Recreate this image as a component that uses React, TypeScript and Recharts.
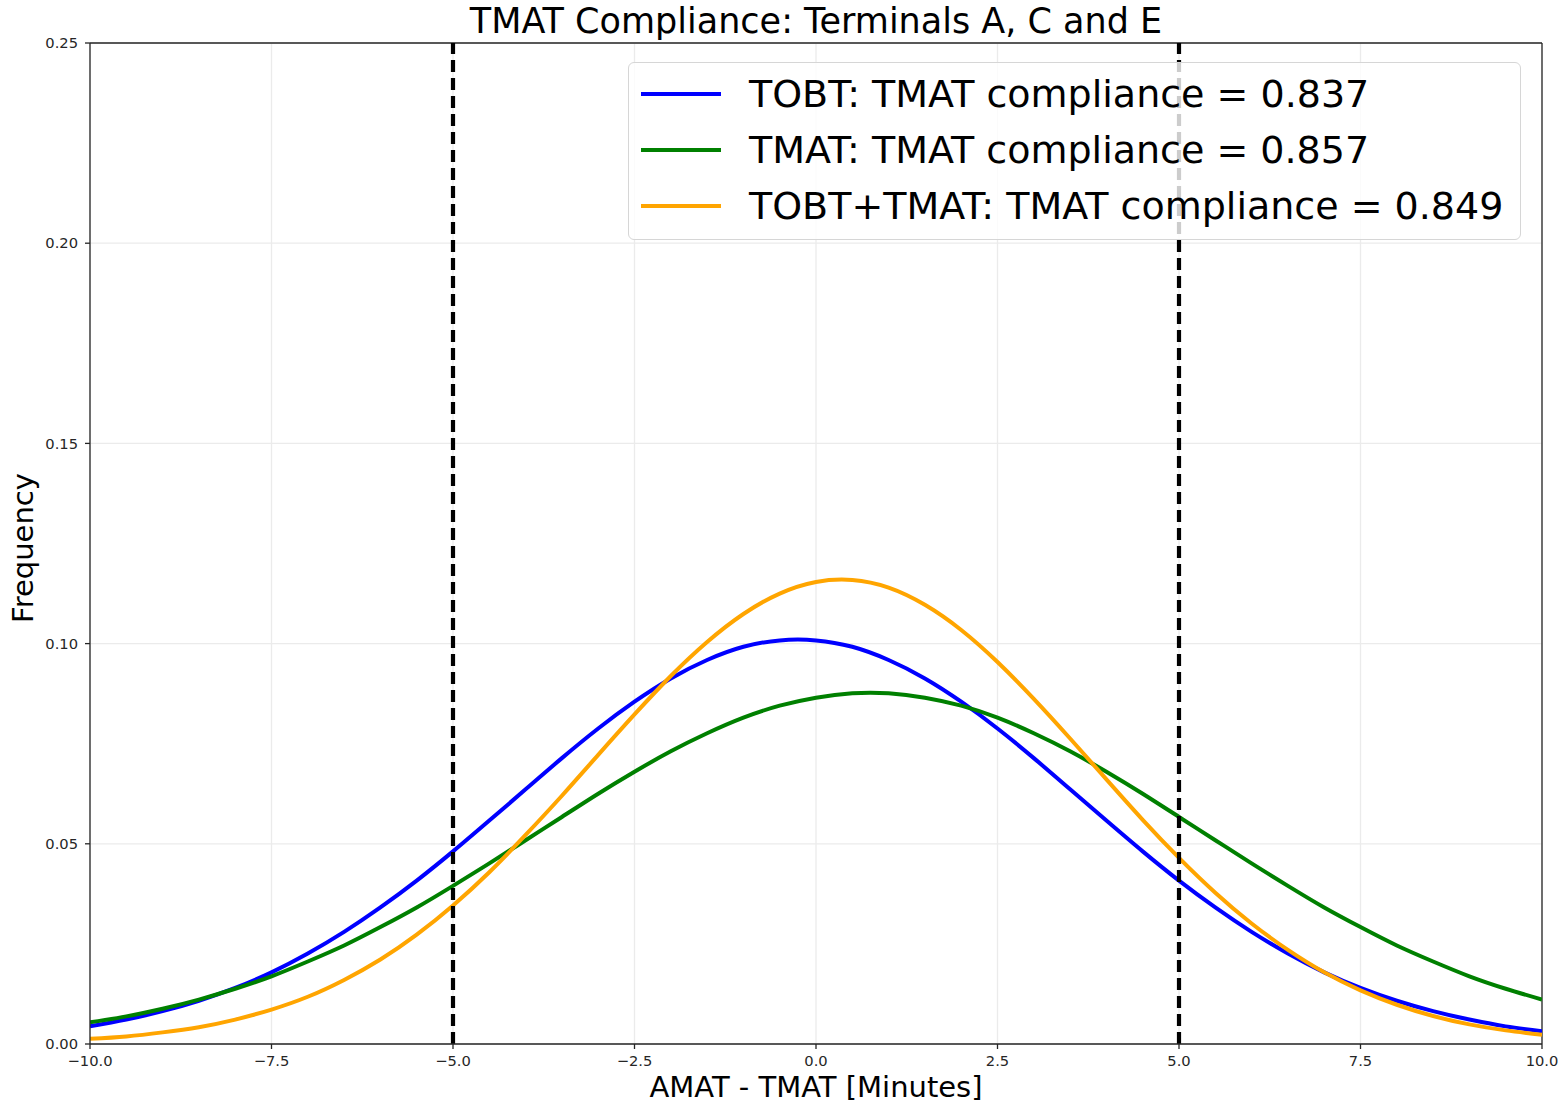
import React from "react";
import { LineChart, Line, XAxis, YAxis, CartesianGrid, ReferenceLine, Legend } from "recharts";

const xs = [
    -10, -9.5, -9, -8.5, -8, -7.5, -7, -6.5, -6, -5.5, -5, -4.5, -4, -3.5, -3, -2.5, -2, -1.5, -1, -0.5,
    0, 0.5, 1, 1.5, 2, 2.5, 3, 3.5, 4, 4.5, 5, 5.5, 6, 6.5, 7, 7.5, 8, 8.5, 9, 9.5, 10,
];

const tobt = [
    0.0044, 0.0061, 0.0082, 0.0108, 0.014, 0.0179, 0.0226, 0.028, 0.0341, 0.0408, 0.0481, 0.0558, 0.0636, 0.0714,
    0.0788, 0.0855, 0.0913, 0.0959, 0.0992, 0.1008, 0.1008, 0.0992, 0.0959, 0.0913, 0.0855, 0.0788, 0.0714, 0.0636,
    0.0558, 0.0481, 0.0408, 0.0341, 0.028, 0.0226, 0.0179, 0.014, 0.0108, 0.0082, 0.0061, 0.0044, 0.0032,
];

const tmat = [
    0.0054, 0.0069, 0.0088, 0.0111, 0.0138, 0.0169, 0.0206, 0.0246, 0.0292, 0.0341, 0.0395, 0.0451, 0.0509, 0.0567,
    0.0625, 0.068, 0.0731, 0.0776, 0.0815, 0.0845, 0.0865, 0.0876, 0.0876, 0.0865, 0.0845, 0.0815, 0.0776, 0.0731,
    0.068, 0.0625, 0.0567, 0.0509, 0.0451, 0.0395, 0.0341, 0.0292, 0.0246, 0.0206, 0.0169, 0.0138, 0.0111,
];

const both = [
    0.0013, 0.0019, 0.0029, 0.0042, 0.0061, 0.0086, 0.0118, 0.016, 0.0211, 0.0273, 0.0346, 0.0429, 0.0522, 0.062,
    0.0722, 0.0823, 0.0919, 0.1004, 0.1074, 0.1125, 0.1154, 0.1159, 0.114, 0.1097, 0.1034, 0.0954, 0.0862, 0.0763,
    0.0661, 0.056, 0.0465, 0.0378, 0.0301, 0.0235, 0.0179, 0.0134, 0.0098, 0.007, 0.0049, 0.0034, 0.0023,
];

const xTicks = [-10, -7.5, -5, -2.5, 0, 2.5, 5, 7.5, 10];
const yTicks = [0, 0.05, 0.1, 0.15, 0.2, 0.25];
const limits = [-5, 5];

const SERIES = [
    { key: "tobt", name: "TOBT: TMAT compliance = 0.837", color: "#0000ff" },
    { key: "tmat", name: "TMAT: TMAT compliance = 0.857", color: "#008000" },
    { key: "both", name: "TOBT+TMAT: TMAT compliance = 0.849", color: "#ffa500" },
];

const data = xs.map((x, i) => ({ x, tobt: tobt[i], tmat: tmat[i], both: both[i] }));

const FONT = "'DejaVu Sans', sans-serif";
const AXIS_COLOR = "#262626";
const TICK = { fill: "#262626", fontSize: 14.7, fontFamily: FONT };

const minus = (s: string) => s.replace("-", "\u2212");

function LegendBox() {
    return (
        <div
            style={{
                width: 893,
                height: 178,
                boxSizing: "border-box",
                background: "rgba(255,255,255,0.8)",
                border: "1.5px solid #d6d6d6",
                borderRadius: 6,
                fontFamily: FONT,
                fontSize: 38,
                color: "#000",
                paddingTop: 3,
            }}
        >
            {SERIES.map((s) => (
                <div key={s.key} style={{ display: "flex", alignItems: "center", height: 56 }}>
                    <div style={{ width: 80, height: 4, background: s.color, marginLeft: 12, marginRight: 28 }} />
                    <span style={{ whiteSpace: "nowrap", lineHeight: 1 }}>{s.name}</span>
                </div>
            ))}
        </div>
    );
}

export default function App() {
    return (
        <div style={{ width: 1567, height: 1104, background: "#fff" }}>
            <style>{`body{margin:0}`}</style>
            <LineChart width={1567} height={1104} data={data} margin={{ top: 43, right: 25, bottom: 0, left: 0 }}>
                <CartesianGrid stroke="#ebebeb" strokeWidth={1.3} />
                <XAxis
                    dataKey="x"
                    type="number"
                    domain={[-10, 10]}
                    ticks={xTicks}
                    tickFormatter={(v: number) => minus(v.toFixed(1))}
                    tick={TICK}
                    tickSize={5}
                    tickMargin={7}
                    height={60}
                    stroke={AXIS_COLOR}
                    strokeWidth={1.3}
                    allowDataOverflow
                />
                <YAxis
                    type="number"
                    domain={[0, 0.25]}
                    ticks={yTicks}
                    tickFormatter={(v: number) => v.toFixed(2)}
                    tick={TICK}
                    tickSize={5}
                    tickMargin={7}
                    width={90}
                    stroke={AXIS_COLOR}
                    strokeWidth={1.3}
                    allowDataOverflow
                />
                <ReferenceLine y={0.25} stroke={AXIS_COLOR} strokeWidth={1.3} />
                <ReferenceLine x={10} stroke={AXIS_COLOR} strokeWidth={1.3} />
                {SERIES.map((s) => (
                    <Line
                        key={s.key}
                        dataKey={s.key}
                        name={s.name}
                        type="natural"
                        stroke={s.color}
                        strokeWidth={4}
                        dot={false}
                        activeDot={false}
                        isAnimationActive={false}
                    />
                ))}
                {limits.map((v) => (
                    <ReferenceLine key={v} x={v} stroke="#000" strokeWidth={4.2} strokeDasharray="12 6" />
                ))}
                <Legend
                    layout="horizontal"
                    align="center"
                    verticalAlign="middle"
                    content={() => <LegendBox />}
                    wrapperStyle={{ top: 62, left: 628, width: 893, height: 178 }}
                />
                <text x={816} y={33} textAnchor="middle" fontFamily={FONT} fontSize={35} fill="#000">
                    TMAT Compliance: Terminals A, C and E
                </text>
                <text x={816} y={1097} textAnchor="middle" fontFamily={FONT} fontSize={29} fill="#000">
                    AMAT - TMAT [Minutes]
                </text>
                <text
                    x={33}
                    y={548}
                    textAnchor="middle"
                    fontFamily={FONT}
                    fontSize={29}
                    fill="#000"
                    transform="rotate(-90 33 548)"
                >
                    Frequency
                </text>
            </LineChart>
        </div>
    );
}
